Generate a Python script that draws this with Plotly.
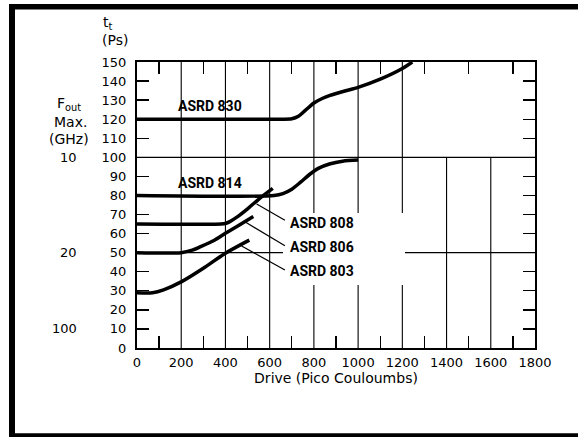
import plotly.graph_objects as go

# ---- data ----
x_830 = [0, 650, 700, 730, 760, 800, 840, 873, 940, 1000, 1100, 1200, 1245]
y_830 = [120, 120, 120.2, 121.5, 124.5, 128.5, 131, 132.5, 134.8, 136.7, 141, 146.6, 150]

x_814 = [0, 620, 660, 700, 740, 780, 820, 870, 930, 1000]
y_814 = [80, 80, 81, 83.3, 87, 91, 94.2, 96.5, 98, 98.6]

x_808 = [0, 380, 400, 420, 450, 500, 550, 614]
y_808 = [65, 65, 65.3, 66.3, 68.5, 73, 78, 83.7]

x_806 = [0, 200, 250, 285, 350, 398, 450, 526]
y_806 = [50, 50, 51.3, 53, 56.5, 60, 63.6, 69]

x_803 = [0, 70, 120, 202, 300, 398, 508]
y_803 = [29, 29, 30.5, 34.8, 41.8, 49.6, 56.6]

curve_names = ["ASRD 830", "ASRD 814", "ASRD 808", "ASRD 806", "ASRD 803"]
x_ticks = [0, 200, 400, 600, 800, 1000, 1200, 1400, 1600, 1800]
x_minor = [100, 300, 500, 700, 900, 1100, 1300, 1500, 1700]
fout_vals = [100, 50, 10]
fout_text = ["10", "20", "100"]

# ---- geometry ----
W, H = 578, 437
L, R, T, B = 137, 535, 62, 348

def px(xpix):
    return (xpix - L) / (R - L)

def py(ypix):
    return (B - ypix) / (B - T)

fig = go.Figure()
for xs, ys in [(x_830, y_830), (x_814, y_814), (x_808, y_808), (x_806, y_806), (x_803, y_803)]:
    fig.add_trace(go.Scatter(x=xs, y=ys, mode="lines",
                             line=dict(color="black", width=3.5, shape="spline", smoothing=0.8),
                             showlegend=False, hoverinfo="skip"))

shapes = []
def seg(x0, y0, x1, y1, w=1.1):
    shapes.append(dict(type="line", xref="x", yref="y", x0=x0, y0=y0, x1=x1, y1=y1,
                       line=dict(color="black", width=w), layer="below"))

# partial grid lines
for gx in (200, 400, 600):
    seg(gx, 0, gx, 150)
for gx in (800, 1000, 1200):
    seg(gx, 70.8, gx, 150)
    seg(gx, 0, gx, 33)
for gx in (1400, 1600):
    seg(gx, 0, gx, 100)
seg(0, 100, 1800, 100)
seg(0, 50, 660, 50)
seg(1212, 50, 1800, 50)

# leader lines
seg(541, 75.5, 669, 67, 1.2)
seg(488, 66.2, 669, 53.6, 1.2)
seg(473, 53.5, 669, 40.9, 1.2)

# outer frame (thick border)
def pline(x0, y0, x1, y1, w):
    shapes.append(dict(type="line", xref="paper", yref="paper",
                       x0=px(x0), y0=py(y0), x1=px(x1), y1=py(y1),
                       line=dict(color="black", width=w)))
pline(12, 4, 12, 437, 6)
pline(9, 6.7, 578, 6.7, 5.5)
pline(9, 435.5, 578, 435.5, 4.5)

annos = []
lab_font = dict(family="Roboto, Liberation Sans, sans-serif", size=14, color="black", weight="bold")
label_pos = [(178, 126.9), (178, 86.7), (684, 65.4), (684, 53.1), (684, 40.5)]
for name, (lx, ly) in zip(curve_names, label_pos):
    annos.append(dict(x=lx, y=ly, xref="x", yref="y", text=name, showarrow=False,
                      xanchor="left", yanchor="middle", font=lab_font))

txt_font = dict(family="DejaVu Sans, sans-serif", size=14, color="black")
num_font = dict(family="DejaVu Sans, sans-serif", size=13, color="black")
annos.append(dict(x=px(101), y=py(23), xref="paper", yref="paper", text="t<sub>t</sub>",
                  showarrow=False, xanchor="left", yanchor="middle", font=txt_font))
annos.append(dict(x=px(100), y=py(40), xref="paper", yref="paper", text="(Ps)",
                  showarrow=False, xanchor="left", yanchor="middle", font=txt_font))
annos.append(dict(x=px(69), y=py(104), xref="paper", yref="paper", text="F<sub>out</sub>",
                  showarrow=False, xanchor="center", yanchor="middle", font=txt_font))
annos.append(dict(x=px(70), y=py(121.5), xref="paper", yref="paper", text="Max.",
                  showarrow=False, xanchor="center", yanchor="middle", font=txt_font))
annos.append(dict(x=px(68.5), y=py(139), xref="paper", yref="paper", text="(GHz)",
                  showarrow=False, xanchor="center", yanchor="middle", font=txt_font))
for v, t in zip(fout_vals, fout_text):
    annos.append(dict(x=px(79), y=v, xref="paper", yref="y", text=t, showarrow=False,
                      xanchor="right", yanchor="middle", font=num_font))

fig.update_layout(
    width=W, height=H,
    margin=dict(l=L, r=W - R, t=T, b=H - B),
    paper_bgcolor="white", plot_bgcolor="white",
    shapes=shapes, annotations=annos,
    xaxis=dict(range=[0, 1800], tickvals=x_ticks, showgrid=False, zeroline=False,
               showline=True, linecolor="black", linewidth=2, mirror="ticks",
               ticks="", tickfont=num_font, ticklabelstandoff=1,
               minor=dict(tickvals=x_minor, ticks="inside", ticklen=12, tickwidth=1.3,
                          tickcolor="black", showgrid=False),
               title=dict(text="Drive (Pico Couloumbs)", font=txt_font, standoff=0)),
    yaxis=dict(range=[0, 150], dtick=10, showgrid=False, zeroline=False,
               showline=True, linecolor="black", linewidth=2, mirror="ticks",
               ticks="inside", ticklen=12, tickwidth=1.3, tickcolor="black",
               tickfont=num_font, ticklabelstandoff=6),
)

fig.write_html("out.html", config={"displayModeBar": False, "staticPlot": True},
               post_script="document.body.style.margin='0px';")
